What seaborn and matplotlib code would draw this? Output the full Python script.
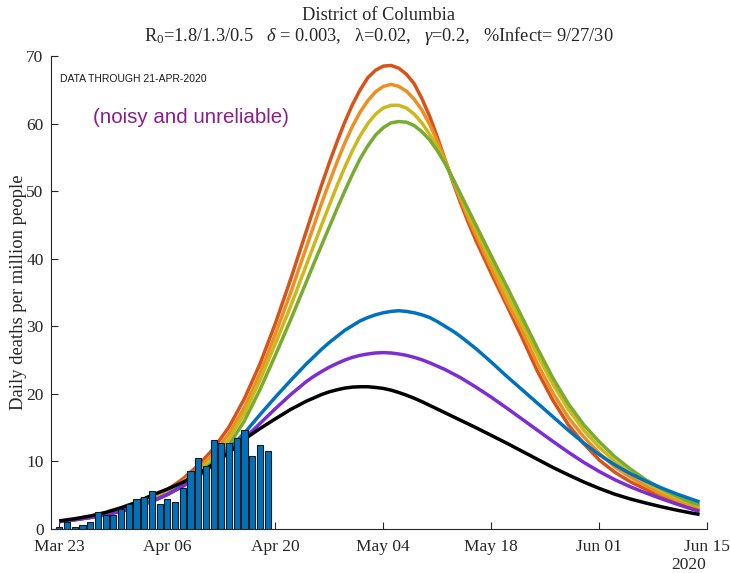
import matplotlib
matplotlib.use("Agg")
import matplotlib.pyplot as plt
import numpy as np
import pandas as pd
import seaborn as sns

# ---- data -----------------------------------------------------------------
START = pd.Timestamp("2020-03-23")

# observed daily deaths per million, Mar 23 .. Apr 19
BAR_VALUES = [0.35, 1.00, 0.30, 0.64, 1.08, 2.56, 2.10, 2.10, 2.96, 3.70,
              4.44, 4.78, 5.62, 3.70, 4.44, 4.04, 6.00, 8.63, 10.50, 9.37,
              13.10, 12.77, 12.77, 13.50, 14.64, 10.85, 12.38, 11.59]

# model curves, sampled at these day offsets from Mar 23
# (every other day, daily around the peaks, and the final day)
CURVE_DAYS = (list(range(0, 31, 2)) + list(range(32, 55))
              + list(range(56, 83, 2)) + [83])

RED = [1.1, 1.4, 1.77, 2.25, 2.85, 3.6, 4.6, 5.8, 7.4, 9.4, 11.9, 15.1, 19.3,
       24.4, 30.4, 37.0,
       44.0, 47.5, 50.9, 54.2, 57.3, 60.2, 62.8, 65.0, 66.8, 67.9, 68.5, 68.6,
       68.2, 67.3, 65.9, 63.7, 61.1, 58.0, 54.7, 51.4, 48.3, 45.4, 42.7,
       37.8, 33.1, 28.3, 23.3, 19.0, 15.4, 12.6, 10.2, 8.4, 7.0, 5.9, 4.8,
       3.9, 3.1,
       2.8]
ORANGE = [1.1, 1.39, 1.75, 2.2, 2.77, 3.5, 4.4, 5.55, 7.0, 8.85, 11.2, 14.1,
          18.0, 23.0, 28.8, 35.0,
          41.6, 44.9, 48.2, 51.3, 54.3, 57.1, 59.6, 61.7, 63.4, 64.7, 65.5,
          65.8, 65.5, 64.8, 63.6, 62.0, 59.9, 57.4, 54.6, 51.6, 48.8, 46.0,
          43.5,
          38.6, 33.7, 29.3, 24.4, 20.1, 16.5, 13.6, 11.2, 9.2, 7.7, 6.4, 5.2,
          4.3, 3.5,
          3.2]
YELLOW = [1.1, 1.38, 1.72, 2.16, 2.7, 3.4, 4.25, 5.3, 6.7, 8.4, 10.6, 13.3,
          17.1, 22.0, 27.4, 33.0,
          39.0, 42.0, 45.0, 47.9, 50.8, 53.5, 56.0, 58.2, 60.0, 61.4, 62.3,
          62.7, 62.7, 62.3, 61.4, 60.1, 58.4, 56.5, 54.3, 51.8, 49.2, 46.7,
          44.3,
          39.5, 34.8, 30.3, 25.7, 21.4, 17.7, 14.6, 12.1, 10.0, 8.3, 6.9, 5.7,
          4.6, 3.8,
          3.4]
GREEN = [1.1, 1.37, 1.7, 2.12, 2.64, 3.3, 4.1, 5.1, 6.4, 8.0, 10.0, 12.4,
         16.0, 20.6, 25.7, 31.0,
         36.5, 39.3, 42.0, 44.7, 47.4, 50.0, 52.5, 54.8, 56.7, 58.3, 59.4,
         60.1, 60.3, 60.2, 59.7, 58.8, 57.6, 56.0, 54.1, 51.9, 49.6, 47.3,
         45.0,
         40.4, 35.9, 31.3, 26.7, 22.3, 18.5, 15.4, 12.9, 10.7, 8.9, 7.3, 6.0,
         4.9, 3.9,
         3.6]
BLUE = [1.1, 1.37, 1.7, 2.12, 2.64, 3.3, 4.1, 5.1, 6.4, 7.9, 9.7, 11.9, 14.2,
        16.9, 19.5, 22.0,
        24.4, 25.5, 26.6, 27.6, 28.5, 29.4, 30.1, 30.8, 31.3, 31.7, 32.0,
        32.2, 32.3, 32.2, 32.0, 31.7, 31.3, 30.7, 30.0, 29.3, 28.5, 27.6,
        26.7,
        24.7, 22.6, 20.6, 18.6, 16.6, 14.6, 12.7, 11.0, 9.5, 8.2, 7.1, 6.1,
        5.2, 4.4,
        4.0]
PURPLE = [1.1, 1.37, 1.7, 2.12, 2.64, 3.3, 4.1, 5.1, 6.3, 7.8, 9.5, 11.4,
          13.4, 15.6, 17.8, 19.9,
          21.8, 22.6, 23.3, 23.95, 24.5, 25.0, 25.4, 25.7, 25.9, 26.05, 26.1,
          26.05, 25.9, 25.7, 25.4, 25.05, 24.6, 24.1, 23.6, 23.0, 22.4, 21.7,
          21.0,
          19.5, 17.9, 16.25, 14.6, 12.95, 11.35, 9.85, 8.5, 7.3, 6.25, 5.35,
          4.5, 3.7, 2.95,
          2.6]
BLACK = [1.2, 1.52, 1.92, 2.45, 3.15, 3.95, 5.0, 5.9, 6.9, 8.1, 9.6, 11.3,
         13.3, 14.85, 16.3, 17.7,
         18.9, 19.4, 19.9, 20.3, 20.6, 20.85, 21.0, 21.05, 21.05, 20.95, 20.8,
         20.55, 20.2, 19.8, 19.35, 18.85, 18.3, 17.75, 17.2, 16.65, 16.1,
         15.55, 15.0,
         13.85, 12.7, 11.5, 10.3, 9.1, 8.0, 6.95, 6.0, 5.15, 4.45, 3.85, 3.3,
         2.8, 2.35,
         2.15]

SERIES = {"red": RED, "orange": ORANGE, "yellow": YELLOW, "green": GREEN,
          "blue": BLUE, "purple": PURPLE, "black": BLACK}
PALETTE = {"red": "#D95319", "orange": "#EE8F22", "yellow": "#CDB81B",
           "green": "#77AC30", "blue": "#0072BD", "purple": "#7D2ED3",
           "black": "#000000"}

TICK_DATES = ["2020-03-23", "2020-04-06", "2020-04-20", "2020-05-04",
              "2020-05-18", "2020-06-01", "2020-06-15"]
TICK_LABELS = ["Mar 23", "Apr 06", "Apr 20", "May 04", "May 18", "Jun 01",
               "Jun 15"]

# ---- long-form table -----------------------------------------------------
curve_dates = START + pd.to_timedelta(CURVE_DAYS, unit="D")
frames = []
for name, vals in SERIES.items():
    frames.append(pd.DataFrame({"date": curve_dates, "deaths": vals,
                                "model": name}))
curves = pd.concat(frames, ignore_index=True)

bar_dates = START + pd.to_timedelta(np.arange(len(BAR_VALUES)), unit="D")

# ---- style ---------------------------------------------------------------
sns.set_style("ticks")
plt.rcParams["font.family"] = ["Liberation Serif", "DejaVu Serif"]
plt.rcParams["mathtext.fontset"] = "custom"
plt.rcParams["mathtext.rm"] = "Liberation Serif"
plt.rcParams["mathtext.it"] = "Liberation Serif:italic"
plt.rcParams["mathtext.bf"] = "Liberation Serif:bold"

AX_COLOR = "#262626"

fig = plt.figure(figsize=(7.3, 5.73), dpi=100)
ax = fig.add_axes([0.0692, 0.0768, 0.8997, 0.8255])

sns.lineplot(data=curves, x="date", y="deaths", hue="model",
             hue_order=list(SERIES.keys()), palette=PALETTE,
             linewidth=2.5, legend=False, sort=True, ax=ax, zorder=2)
for line in ax.lines:
    line.set_solid_capstyle("butt")
    line.set_solid_joinstyle("round")

ax.bar(bar_dates, BAR_VALUES, width=0.8, color="#0072BD",
       edgecolor="#1a1a1a", linewidth=0.8, zorder=3)

# ---- axes ----------------------------------------------------------------
ax.set_xlim(START - pd.Timedelta(days=1.14), pd.Timestamp("2020-06-15"))
ax.set_ylim(0, 70)
ax.set_xticks(pd.to_datetime(TICK_DATES))
ax.set_xticklabels(TICK_LABELS)
ax.set_yticks(np.arange(0, 71, 10))
ax.tick_params(direction="in", length=5, width=0.8, colors=AX_COLOR,
               labelsize=12.5)
ax.tick_params(axis="x", pad=7.5)
ax.tick_params(axis="y", pad=5)
for side in ("top", "right"):
    ax.spines[side].set_visible(False)
for side in ("left", "bottom"):
    ax.spines[side].set_color(AX_COLOR)
    ax.spines[side].set_linewidth(0.8)

ax.set_xlabel("")
ax.set_ylabel("Daily deaths per million people", fontsize=13.4,
              color=AX_COLOR)
ax.yaxis.set_label_coords(-0.036, 0.5)

# ---- text ----------------------------------------------------------------
cx = 0.0692 + 0.8997 / 2
fig.text(cx, 1 - 15 / 573, "District of Columbia", ha="center", va="center",
         fontsize=13.2, color=AX_COLOR)
fig.text(cx, 1 - 36 / 573,
         r"$\mathregular{R_0}$=1.8/1.3/0.5   $\delta$ = 0.003,   λ=0.02,   "
         r"$\gamma$=0.2,   %Infect= 9/27/30",
         ha="center", va="center", fontsize=13.2, color=AX_COLOR)
fig.text(689 / 730, 1 - 565 / 573, "2020", ha="center", va="center",
         fontsize=12.5, color=AX_COLOR)

ax.text(0.0142, 0.951, "DATA THROUGH 21-APR-2020", transform=ax.transAxes,
        ha="left", va="center", fontsize=7.5, family="Liberation Sans",
        color="#1a1a1a")
ax.text(0.0645, 0.869, "(noisy and unreliable)", transform=ax.transAxes,
        ha="left", va="center", fontsize=14.8, family="Liberation Sans",
        color="#8B1C8F")

fig.savefig("out.png", dpi=100)
